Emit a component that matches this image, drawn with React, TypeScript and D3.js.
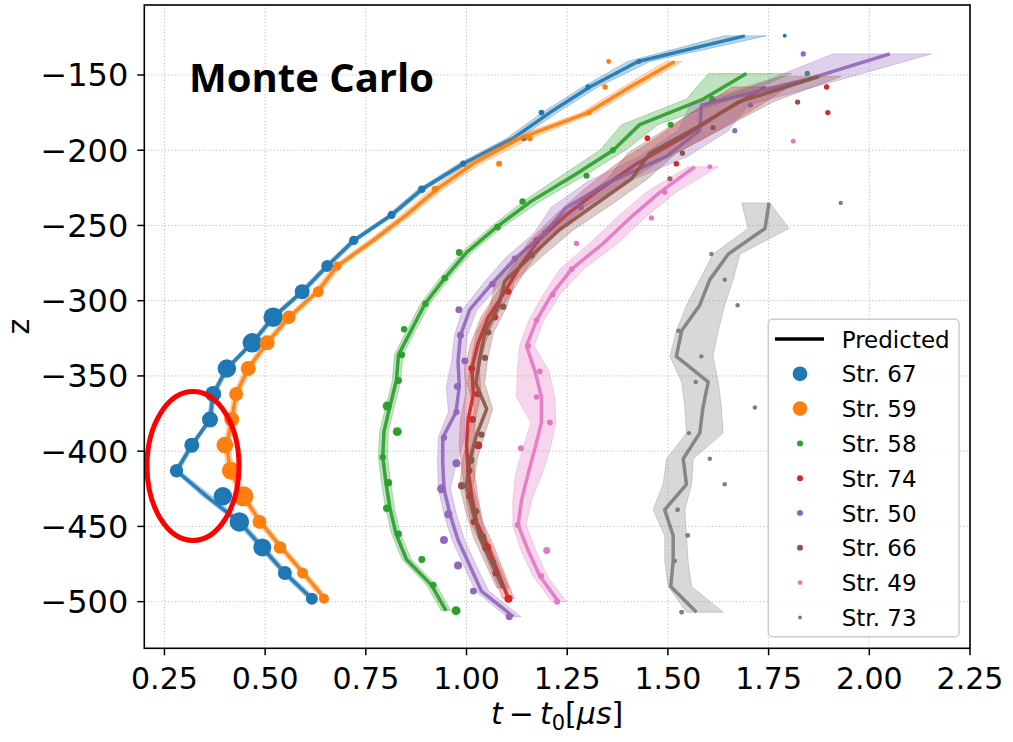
import { useEffect, useRef } from "react";
import * as d3 from "d3";

// predicted rows: [z, t - t0, band low, band high]; observed rows: [z, t - t0, charge]
const str67Pred = [
  [-498, 0.616, 0.606, 0.626], [-481, 0.549, 0.540, 0.558], [-464, 0.493, 0.484, 0.502],
  [-447, 0.436, 0.427, 0.446], [-430, 0.355, 0.344, 0.368], [-413, 0.280, 0.273, 0.288],
  [-396, 0.318, 0.312, 0.324], [-379, 0.363, 0.357, 0.369], [-362, 0.371, 0.365, 0.378],
  [-345, 0.405, 0.399, 0.412], [-328, 0.468, 0.461, 0.475], [-311, 0.520, 0.512, 0.528],
  [-294, 0.592, 0.584, 0.600], [-277, 0.654, 0.646, 0.662], [-260, 0.720, 0.712, 0.729],
  [-243, 0.814, 0.805, 0.823], [-226, 0.889, 0.879, 0.899], [-209, 0.992, 0.980, 1.005],
  [-192, 1.116, 1.100, 1.132], [-175, 1.207, 1.188, 1.226], [-158, 1.306, 1.288, 1.326],
  [-141, 1.426, 1.400, 1.456], [-124, 1.691, 1.640, 1.745],
];
const str67Obs = [
  [-498, 0.616, 36], [-481, 0.549, 49], [-464, 0.493, 81], [-447, 0.436, 95], [-430, 0.395, 85],
  [-413, 0.280, 45], [-396, 0.318, 56], [-379, 0.363, 64], [-362, 0.371, 64], [-345, 0.405, 85],
  [-328, 0.468, 95], [-311, 0.520, 95], [-294, 0.592, 56], [-277, 0.654, 36], [-260, 0.720, 22],
  [-243, 0.814, 17], [-226, 0.889, 14], [-209, 0.992, 10], [-192, 1.142, 8], [-175, 1.186, 8],
  [-158, 1.302, 7], [-141, 1.428, 6], [-124, 1.790, 4],
];

const str59Pred = [
  [-498, 0.648, 0.638, 0.658], [-481, 0.595, 0.586, 0.604], [-464, 0.540, 0.531, 0.549],
  [-447, 0.488, 0.479, 0.497], [-430, 0.446, 0.437, 0.455], [-413, 0.413, 0.404, 0.422],
  [-396, 0.405, 0.397, 0.413], [-379, 0.417, 0.409, 0.425], [-362, 0.428, 0.420, 0.437],
  [-345, 0.458, 0.449, 0.467], [-328, 0.505, 0.496, 0.514], [-311, 0.559, 0.549, 0.569],
  [-294, 0.630, 0.620, 0.640], [-277, 0.679, 0.668, 0.690], [-260, 0.768, 0.756, 0.780],
  [-243, 0.851, 0.838, 0.864], [-226, 0.926, 0.912, 0.941], [-209, 1.016, 1.000, 1.035],
  [-192, 1.133, 1.110, 1.160], [-175, 1.302, 1.285, 1.320], [-158, 1.406, 1.388, 1.425],
  [-141, 1.517, 1.495, 1.535],
];
const str59Obs = [
  [-498, 0.646, 25], [-481, 0.593, 30], [-464, 0.537, 40], [-447, 0.486, 49], [-430, 0.446, 100],
  [-413, 0.415, 81], [-396, 0.400, 70], [-379, 0.417, 56], [-362, 0.428, 49], [-345, 0.458, 56],
  [-328, 0.505, 56], [-311, 0.559, 45], [-294, 0.632, 30], [-277, 0.679, 20], [-226, 0.922, 12],
  [-209, 1.081, 9], [-192, 1.157, 9], [-175, 1.304, 7], [-158, 1.344, 7], [-141, 1.353, 6],
];

const str58Pred = [
  [-506, 0.949, 0.937, 0.961], [-489, 0.913, 0.901, 0.925], [-472, 0.851, 0.840, 0.863],
  [-455, 0.825, 0.814, 0.836], [-438, 0.810, 0.799, 0.821], [-421, 0.800, 0.789, 0.812],
  [-404, 0.792, 0.781, 0.804], [-387, 0.795, 0.784, 0.806], [-370, 0.810, 0.800, 0.821],
  [-353, 0.826, 0.816, 0.837], [-336, 0.831, 0.821, 0.842], [-319, 0.864, 0.853, 0.875],
  [-302, 0.897, 0.886, 0.909], [-285, 0.946, 0.934, 0.958], [-268, 1.000, 0.987, 1.013],
  [-251, 1.075, 1.060, 1.090], [-234, 1.160, 1.140, 1.182], [-217, 1.265, 1.235, 1.292],
  [-200, 1.364, 1.331, 1.395], [-183, 1.430, 1.385, 1.475], [-166, 1.588, 1.546, 1.660],
  [-149, 1.695, 1.601, 1.807],
];
const str58Obs = [
  [-506, 0.974, 20], [-489, 0.917, 12], [-472, 0.889, 12], [-455, 0.831, 12], [-438, 0.802, 14],
  [-421, 0.806, 14], [-404, 0.792, 10], [-387, 0.828, 20], [-370, 0.803, 20], [-353, 0.831, 12],
  [-336, 0.839, 12], [-319, 0.845, 10], [-302, 0.898, 10], [-285, 0.946, 10], [-268, 0.982, 12],
  [-251, 1.077, 11], [-234, 1.139, 10], [-217, 1.298, 9], [-200, 1.363, 9], [-183, 1.507, 9],
  [-166, 1.610, 9], [-149, 1.846, 7],
];

const str74Pred = [
  [-498, 1.104, 1.090, 1.118], [-481, 1.079, 1.064, 1.094], [-464, 1.054, 1.039, 1.069],
  [-447, 1.025, 1.010, 1.040], [-430, 1.013, 0.998, 1.028], [-413, 1.004, 0.989, 1.019],
  [-396, 1.000, 0.982, 1.018], [-379, 1.004, 0.985, 1.022], [-362, 1.017, 0.998, 1.036],
  [-345, 1.013, 0.995, 1.032], [-328, 1.029, 1.011, 1.047], [-311, 1.054, 1.036, 1.072],
  [-294, 1.095, 1.077, 1.113], [-277, 1.133, 1.113, 1.153], [-260, 1.178, 1.156, 1.200],
  [-243, 1.248, 1.220, 1.278], [-226, 1.331, 1.292, 1.370], [-209, 1.422, 1.372, 1.470],
  [-192, 1.534, 1.470, 1.590], [-175, 1.633, 1.560, 1.700], [-158, 1.742, 1.660, 1.800],
];
const str74Obs = [
  [-498, 1.104, 16], [-481, 1.073, 12], [-464, 1.050, 20], [-447, 1.018, 10], [-430, 1.007, 10],
  [-413, 1.007, 10], [-396, 1.029, 16], [-379, 1.015, 12], [-362, 1.028, 10], [-345, 1.013, 12],
  [-311, 1.071, 10], [-294, 1.104, 10], [-260, 1.174, 10], [-209, 1.521, 8], [-192, 1.449, 8],
  [-175, 1.897, 7], [-158, 1.894, 7],
];

const str50Pred = [
  [-510, 1.116, 1.100, 1.135], [-493, 1.037, 1.022, 1.055], [-476, 1.008, 0.993, 1.024],
  [-459, 0.979, 0.964, 0.995], [-442, 0.959, 0.944, 0.975], [-425, 0.944, 0.930, 0.960],
  [-408, 0.941, 0.928, 0.975], [-391, 0.941, 0.930, 0.996], [-374, 0.974, 0.955, 0.995],
  [-357, 0.982, 0.950, 0.998], [-340, 0.979, 0.963, 0.996], [-323, 0.985, 0.970, 1.002],
  [-306, 1.008, 0.990, 1.026], [-289, 1.062, 1.040, 1.084], [-272, 1.120, 1.095, 1.145],
  [-255, 1.195, 1.168, 1.222], [-238, 1.248, 1.210, 1.290], [-221, 1.356, 1.300, 1.400],
  [-204, 1.497, 1.430, 1.550], [-187, 1.579, 1.525, 1.650], [-170, 1.583, 1.555, 1.700],
  [-153, 1.845, 1.750, 1.930], [-136, 2.051, 1.910, 2.154],
];
const str50Obs = [
  [-510, 1.106, 12], [-493, 1.017, 12], [-476, 0.979, 16], [-459, 0.944, 16], [-442, 0.955, 16],
  [-425, 0.938, 20], [-408, 0.975, 16], [-391, 0.944, 10], [-374, 0.975, 10], [-357, 0.977, 12],
  [-340, 0.996, 12], [-323, 0.985, 12], [-306, 0.981, 12], [-289, 1.064, 10], [-272, 1.120, 10],
  [-255, 1.195, 9], [-238, 1.284, 9], [-187, 1.666, 7], [-170, 1.705, 7], [-136, 1.836, 7],
];

const str66Pred = [
  [-491, 1.090, 1.075, 1.105], [-474, 1.062, 1.046, 1.078], [-457, 1.033, 1.017, 1.050],
  [-440, 1.015, 0.998, 1.032], [-423, 1.000, 0.983, 1.017], [-406, 1.008, 0.990, 1.026],
  [-389, 1.025, 1.005, 1.045], [-372, 1.050, 1.020, 1.065], [-355, 1.023, 1.002, 1.045],
  [-338, 1.033, 1.013, 1.053], [-321, 1.046, 1.025, 1.067], [-304, 1.079, 1.058, 1.100],
  [-287, 1.095, 1.072, 1.120], [-270, 1.162, 1.132, 1.190], [-253, 1.230, 1.190, 1.265],
  [-236, 1.320, 1.270, 1.360], [-219, 1.410, 1.350, 1.450], [-202, 1.455, 1.400, 1.520],
  [-185, 1.570, 1.500, 1.640], [-168, 1.675, 1.600, 1.760], [-151, 1.875, 1.780, 1.930],
];
const str66Obs = [
  [-474, 1.066, 10], [-457, 1.040, 12], [-440, 1.023, 12], [-423, 0.988, 14], [-406, 1.011, 12],
  [-389, 1.037, 10], [-338, 1.046, 10], [-321, 1.054, 10], [-304, 1.091, 10], [-270, 1.162, 9],
  [-219, 1.505, 7], [-202, 1.536, 7], [-185, 1.612, 7], [-168, 1.822, 7],
];

const str49Pred = [
  [-500, 1.228, 1.212, 1.248], [-483, 1.182, 1.165, 1.200], [-466, 1.153, 1.135, 1.172],
  [-449, 1.128, 1.115, 1.148], [-432, 1.137, 1.115, 1.162], [-415, 1.153, 1.122, 1.188],
  [-398, 1.170, 1.140, 1.208], [-381, 1.186, 1.160, 1.222], [-364, 1.186, 1.124, 1.219],
  [-347, 1.170, 1.126, 1.205], [-330, 1.149, 1.132, 1.168], [-313, 1.174, 1.155, 1.192],
  [-296, 1.211, 1.190, 1.232], [-279, 1.261, 1.232, 1.290], [-262, 1.339, 1.305, 1.375],
  [-245, 1.406, 1.372, 1.442], [-228, 1.480, 1.445, 1.520], [-211, 1.567, 1.550, 1.625],
];
const str49Obs = [
  [-500, 1.225, 9], [-483, 1.185, 9], [-466, 1.199, 12], [-449, 1.127, 9], [-398, 1.135, 9],
  [-381, 1.207, 9], [-364, 1.174, 8], [-347, 1.182, 8], [-330, 1.153, 8], [-313, 1.174, 8],
  [-296, 1.214, 8], [-279, 1.261, 8], [-262, 1.273, 7], [-245, 1.459, 7], [-228, 1.492, 7],
  [-211, 1.604, 6], [-194, 1.811, 6],
];

const str73Pred = [
  [-507, 1.571, 1.546, 1.637], [-490, 1.507, 1.501, 1.559], [-473, 1.513, 1.492, 1.550],
  [-456, 1.513, 1.492, 1.546], [-439, 1.492, 1.463, 1.542], [-422, 1.546, 1.488, 1.559],
  [-405, 1.538, 1.497, 1.563], [-388, 1.579, 1.546, 1.637], [-371, 1.587, 1.542, 1.633],
  [-354, 1.600, 1.534, 1.625], [-337, 1.521, 1.505, 1.612], [-320, 1.534, 1.521, 1.625],
  [-303, 1.579, 1.546, 1.641], [-286, 1.604, 1.579, 1.662], [-269, 1.650, 1.612, 1.679],
  [-252, 1.741, 1.699, 1.801], [-235, 1.751, 1.683, 1.753],
];
const str73Obs = [
  [-507, 1.534, 6], [-473, 1.517, 5], [-456, 1.549, 6], [-439, 1.524, 6], [-422, 1.641, 5],
  [-405, 1.604, 5], [-388, 1.552, 5], [-371, 1.716, 5], [-354, 1.569, 5], [-337, 1.583, 5],
  [-320, 1.526, 5], [-303, 1.673, 5], [-286, 1.641, 5], [-269, 1.608, 5], [-235, 1.929, 5],
];

const labels = ["Str. 67", "Str. 59", "Str. 58", "Str. 74", "Str. 50", "Str. 66", "Str. 49", "Str. 73"];
const legendCharge = [54, 54, 9, 9, 9, 9, 6, 4];
const xTicks = [0.25, 0.5, 0.75, 1.0, 1.25, 1.5, 1.75, 2.0, 2.25];
const yTicks = [-150, -200, -250, -300, -350, -400, -450, -500];

const colors = ["#1f77b4", "#ff7f0e", "#2ca02c", "#d62728", "#9467bd", "#8c564b", "#e377c2", "#7f7f7f"];
const preds = [str67Pred, str59Pred, str58Pred, str74Pred, str50Pred, str66Pred, str49Pred, str73Pred];
const obs = [str67Obs, str59Obs, str58Obs, str74Obs, str50Obs, str66Obs, str49Obs, str73Obs];

export default function App() {
  const ref = useRef<SVGSVGElement>(null);

  useEffect(() => {
    const svg = d3.select(ref.current);
    svg.selectAll("*").remove();

    const left = 144.3, right = 970, top = 5, bottom = 648.3;
    const x = d3.scaleLinear().domain([0.2, 2.25]).range([left, right]);
    const y = d3.scaleLinear().domain([-103.5, -531]).range([top, bottom]);
    const r = d3.scaleSqrt().domain([0, 100]).range([0, 10]);
    const font = "'DejaVu Sans', sans-serif";

    svg.append("rect").attr("width", 1013).attr("height", 742).attr("fill", "#fff");

    svg.append("defs").append("clipPath").attr("id", "plot")
      .append("rect").attr("x", left).attr("y", top)
      .attr("width", right - left).attr("height", bottom - top);

    // grid
    const grid = svg.append("g").attr("stroke", "#bdbdbd").attr("stroke-width", 1)
      .attr("stroke-dasharray", "1.2,2.2");
    grid.selectAll("line.gx").data(xTicks).join("line")
      .attr("x1", d => x(d)).attr("x2", d => x(d)).attr("y1", top).attr("y2", bottom);
    grid.selectAll("line.gy").data(yTicks).join("line")
      .attr("x1", left).attr("x2", right).attr("y1", d => y(d)).attr("y2", d => y(d));

    const plot = svg.append("g").attr("clip-path", "url(#plot)");
    const band = d3.area<number[]>()
      .y(d => y(d[0])).x0(d => x(d[2])).x1(d => x(d[3]));
    const line = d3.line<number[]>().x(d => x(d[1])).y(d => y(d[0]));

    preds.forEach((p, i) => {
      const c = colors[i];
      plot.append("path").attr("d", band(p)!)
        .attr("fill", c).attr("fill-opacity", 0.3)
        .attr("stroke", c).attr("stroke-opacity", 0.3).attr("stroke-width", 1);
      plot.append("path").attr("d", line(p)!)
        .attr("fill", "none").attr("stroke", c).attr("stroke-width", 3.5)
        .attr("stroke-opacity", 0.92).attr("stroke-linejoin", "round");
      plot.append("g").selectAll("circle").data(obs[i]).join("circle")
        .attr("cx", d => x(d[1])).attr("cy", d => y(d[0])).attr("r", d => r(d[2]))
        .attr("fill", c);
    });

    // title
    svg.append("text").attr("x", 189).attr("y", 92)
      .attr("font-family", "'Open Sans', sans-serif").attr("font-weight", 700)
      .attr("font-size", 40).text("Monte Carlo");

    // red ellipse
    svg.append("ellipse").attr("cx", 193).attr("cy", 466).attr("rx", 46).attr("ry", 74.5)
      .attr("fill", "none").attr("stroke", "#ff0000").attr("stroke-width", 5);

    // spines
    svg.append("rect").attr("x", left).attr("y", top)
      .attr("width", right - left).attr("height", bottom - top)
      .attr("fill", "none").attr("stroke", "#000").attr("stroke-width", 1.6);

    // ticks
    const ax = svg.append("g").attr("font-family", font).attr("fill", "#000");
    xTicks.forEach(t => {
      ax.append("line").attr("x1", x(t)).attr("x2", x(t)).attr("y1", bottom).attr("y2", bottom + 7)
        .attr("stroke", "#000").attr("stroke-width", 1.5);
      ax.append("text").attr("x", x(t)).attr("y", bottom + 41).attr("text-anchor", "middle")
        .attr("font-size", 30).text(t.toFixed(2));
    });
    yTicks.forEach(t => {
      ax.append("line").attr("x1", left - 7).attr("x2", left).attr("y1", y(t)).attr("y2", y(t))
        .attr("stroke", "#000").attr("stroke-width", 1.5);
      ax.append("text").attr("x", left - 16).attr("y", y(t) + 11.5).attr("text-anchor", "end")
        .attr("font-size", 32).text("\u2212" + Math.abs(t));
    });

    // axis labels
    const xl = ax.append("text").attr("x", (left + right) / 2).attr("y", 724)
      .attr("text-anchor", "middle").attr("font-size", 30);
    xl.append("tspan").attr("font-style", "italic").text("t");
    xl.append("tspan").text("\u2009\u2212\u2009");
    xl.append("tspan").attr("font-style", "italic").text("t");
    xl.append("tspan").attr("font-size", 21).attr("dy", 6).text("0");
    xl.append("tspan").attr("dy", -6).text("[");
    xl.append("tspan").attr("font-style", "italic").text("\u03bcs");
    xl.append("tspan").text("]");

    ax.append("text").attr("transform", `translate(29,${(top + bottom) / 2}) rotate(-90)`)
      .attr("text-anchor", "middle").attr("font-size", 30).text("z");

    // legend
    const lg = svg.append("g").attr("font-family", font);
    lg.append("rect").attr("x", 768.3).attr("y", 319.3).attr("width", 190.7).attr("height", 317.4)
      .attr("rx", 4).attr("fill", "#fff").attr("fill-opacity", 0.8)
      .attr("stroke", "#cccccc").attr("stroke-width", 1.5);
    const rowY = (i: number) => 339 + i * 34.8;
    lg.append("line").attr("x1", 775).attr("x2", 824).attr("y1", rowY(0)).attr("y2", rowY(0))
      .attr("stroke", "#000").attr("stroke-width", 3.5);
    lg.append("text").attr("x", 841.7).attr("y", rowY(0) + 8.5).attr("font-size", 23).text("Predicted");
    labels.forEach((lab, i) => {
      lg.append("circle").attr("cx", 800).attr("cy", rowY(i + 1)).attr("r", r(legendCharge[i]))
        .attr("fill", colors[i]);
      lg.append("text").attr("x", 841.7).attr("y", rowY(i + 1) + 8.5).attr("font-size", 23).text(lab);
    });
  }, []);

  return (
    <svg ref={ref} width={1013} height={742}
      style={{ position: "absolute", left: 0, top: 0 }} />
  );
}
